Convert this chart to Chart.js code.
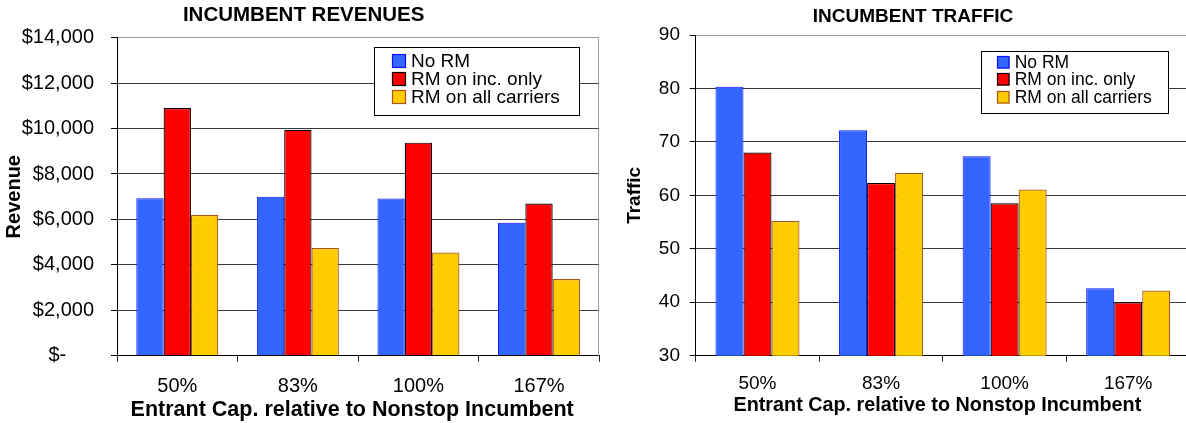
<!DOCTYPE html>
<html>
<head>
<meta charset="utf-8">
<title>Incumbent revenues and traffic</title>
<script src="https://cdn.jsdelivr.net/npm/chart.js@4/dist/chart.umd.min.js"></script>
<style>
  html, body { margin: 0; padding: 0; background: #fff; overflow: hidden; width: 1186px; height: 423px; }
  canvas { position: absolute; top: 0; }
  #revenues { left: 0; }
  #traffic { left: 600px; }
</style>
</head>
<body>
<canvas id="revenues" width="608" height="423"></canvas>
<canvas id="traffic" width="590" height="423"></canvas>
<script>
// ---- data ----
const categories = ['50%', '83%', '100%', '167%'];
const seriesNames = ['No RM', 'RM on inc. only', 'RM on all carriers'];

const revenueNoRM    = [6930, 7000, 6920, 5850];
const revenueIncOnly = [10900, 9950, 9380, 6700];
const revenueAll     = [6190, 4740, 4540, 3380];

const trafficNoRM    = [80.3, 72.2, 67.3, 42.6];
const trafficIncOnly = [68.0, 62.3, 58.5, 40.0];
const trafficAll     = [55.2, 64.2, 61.1, 42.2];

const revenueTickLabels = ['$-     ', '$2,000', '$4,000', '$6,000', '$8,000', '$10,000', '$12,000', '$14,000'];
const trafficTickLabels = ['30', '40', '50', '60', '70', '80', '90'];

// ---- styling ----
const FONT = '"Liberation Sans", Arial, Helvetica, sans-serif';
const palette = [
  { fill: '#3366ff', edge: '#1010ff', width: 1 },
  { fill: '#ff0000', edge: '#000000', width: 1.2 },
  { fill: '#ffcc00', edge: '#a8541c', width: 1.2 }
];

// Boxed legend drawn inside the plot area, one row per series
const boxLegend = {
  id: 'boxLegend',
  afterDatasetsDraw(chart, args, o) {
    const { ctx, chartArea } = chart;
    const x = Math.round(chartArea.right - o.right - o.width);
    const y = Math.round(chartArea.top + o.top);
    ctx.save();
    ctx.fillStyle = '#fff';
    ctx.fillRect(x, y, o.width, o.height);
    ctx.strokeStyle = '#000';
    ctx.lineWidth = 1;
    ctx.strokeRect(x + 0.5, y + 0.5, Math.round(o.width), Math.round(o.height));
    ctx.font = o.fontSize + 'px ' + FONT;
    ctx.textBaseline = 'middle';
    ctx.textAlign = 'left';
    chart.data.datasets.forEach((ds, i) => {
      const cy = y + o.firstRow + i * o.rowGap;
      const sx = Math.round(x + o.swatchX);
      const sy = Math.round(cy - o.swatch / 2);
      ctx.fillStyle = ds.backgroundColor;
      ctx.fillRect(sx, sy, o.swatch, o.swatch);
      ctx.strokeStyle = ds.borderColor;
      ctx.lineWidth = 1.2;
      ctx.strokeRect(sx + 0.5, sy + 0.5, o.swatch - 1, o.swatch - 1);
      ctx.fillStyle = '#000';
      ctx.fillText(ds.label, x + o.textX, cy + 1);
    });
    ctx.restore();
  }
};

// Light frame on the top and right of the plot area
const plotFrame = {
  id: 'plotFrame',
  beforeDatasetsDraw(chart, args, o) {
    const { ctx, chartArea: { right, top, bottom } } = chart;
    const xr = Math.round(right) - 0.5;
    ctx.save();
    ctx.strokeStyle = o.color;
    ctx.lineWidth = 1;
    ctx.beginPath();
    ctx.moveTo(xr, Math.round(top) + 0.5);
    ctx.lineTo(xr, Math.round(bottom));
    ctx.stroke();
    ctx.restore();
  }
};

function datasetsFrom(seriesArrays) {
  return seriesArrays.map((data, i) => ({
    label: seriesNames[i],
    data: data,
    backgroundColor: palette[i].fill,
    borderColor: palette[i].edge,
    borderWidth: palette[i].width,
    categoryPercentage: 0.68,
    barPercentage: 1.0
  }));
}

function buildChart(id, s) {
  return new Chart(document.getElementById(id), {
    type: 'bar',
    data: { labels: categories, datasets: datasetsFrom(s.series) },
    plugins: [plotFrame, boxLegend],
    options: {
      responsive: false,
      animation: false,
      devicePixelRatio: 1,
      layout: { padding: s.padding },
      plugins: {
        legend: { display: false },
        tooltip: { enabled: false },
        title: {
          display: true, text: s.title, color: '#000',
          font: { family: FONT, size: s.titleSize, weight: 'bold' },
          padding: s.titlePad
        },
        plotFrame: { color: '#9a9a9a' },
        boxLegend: s.legend
      },
      scales: {
        x: {
          offset: true,
          ticks: { color: '#000', font: { family: FONT, size: s.xTickSize }, padding: s.xTickPad, maxRotation: 0 },
          grid: { display: true, offset: true, drawOnChartArea: false, drawTicks: true, tickLength: 6, tickColor: '#222' },
          border: { display: true, color: '#000', width: 1 },
          title: {
            display: true, text: 'Entrant Cap. relative to Nonstop Incumbent  ', color: '#000',
            font: { family: FONT, size: s.xTitleSize, weight: 'bold' },
            padding: { top: 0, bottom: s.xTitlePad }
          },
          afterFit: sc => { sc.height = s.xHeight; }
        },
        y: {
          min: s.yMin, max: s.yMax,
          ticks: {
            stepSize: s.yStep, color: '#000', font: { family: FONT, size: s.yTickSize }, padding: s.yTickPad,
            callback: (v, i) => s.yLabels[i]
          },
          grid: {
            color: c => (c.tick && c.tick.value === s.yMax) ? '#9a9a9a' : '#3a3a3a',
            tickColor: '#000', tickLength: 6, drawTicks: true
          },
          border: { display: true, color: '#000', width: 1 },
          title: {
            display: true, text: s.yTitle, color: '#000',
            font: { family: FONT, size: s.yTitleSize, weight: 'bold' },
            padding: { top: s.yTitlePad, bottom: 0 }
          },
          afterFit: sc => { sc.width = s.yWidth; }
        }
      }
    }
  });
}

buildChart('revenues', {
  series: [revenueNoRM, revenueIncOnly, revenueAll],
  title: 'INCUMBENT REVENUES', titleSize: 20.5, titlePad: { top: 3.5, bottom: 9.6 },
  padding: { left: 8, right: 8.7, top: 0, bottom: 0 },
  xTickSize: 20, xTickPad: 13, xTitleSize: 21.5, xTitlePad: 0, xHeight: 67.3,
  yMin: 0, yMax: 14000, yStep: 2000, yLabels: revenueTickLabels,
  yTickSize: 20, yTickPad: 17, yTitle: 'Revenue', yTitleSize: 20, yTitlePad: -5.3, yWidth: 109,
  legend: { right: 20.6, top: 9.6, width: 205, height: 68, fontSize: 19,
            swatch: 14, swatchX: 17.7, textX: 37, firstRow: 13.5, rowGap: 18.2 }
});

buildChart('traffic', {
  series: [trafficNoRM, trafficIncOnly, trafficAll],
  title: 'INCUMBENT TRAFFIC', titleSize: 19, titlePad: { top: 4.9, bottom: 7.3 },
  padding: { left: 36, right: 0, top: 0, bottom: 0 },
  xTickSize: 19, xTickPad: 10.7, xTitleSize: 19.8, xTitlePad: 5.6, xHeight: 67.3,
  yMin: 30, yMax: 90, yStep: 10, yLabels: trafficTickLabels,
  yTickSize: 19, yTickPad: 9.7, yTitle: 'Traffic', yTitleSize: 19, yTitlePad: -12.7, yWidth: 59.7,
  legend: { right: 21.3, top: 15.7, width: 187.4, height: 62, fontSize: 17.5,
            swatch: 12.5, swatchX: 16.4, textX: 33.7, firstRow: 11, rowGap: 17.4 }
});
</script>
</body>
</html>
